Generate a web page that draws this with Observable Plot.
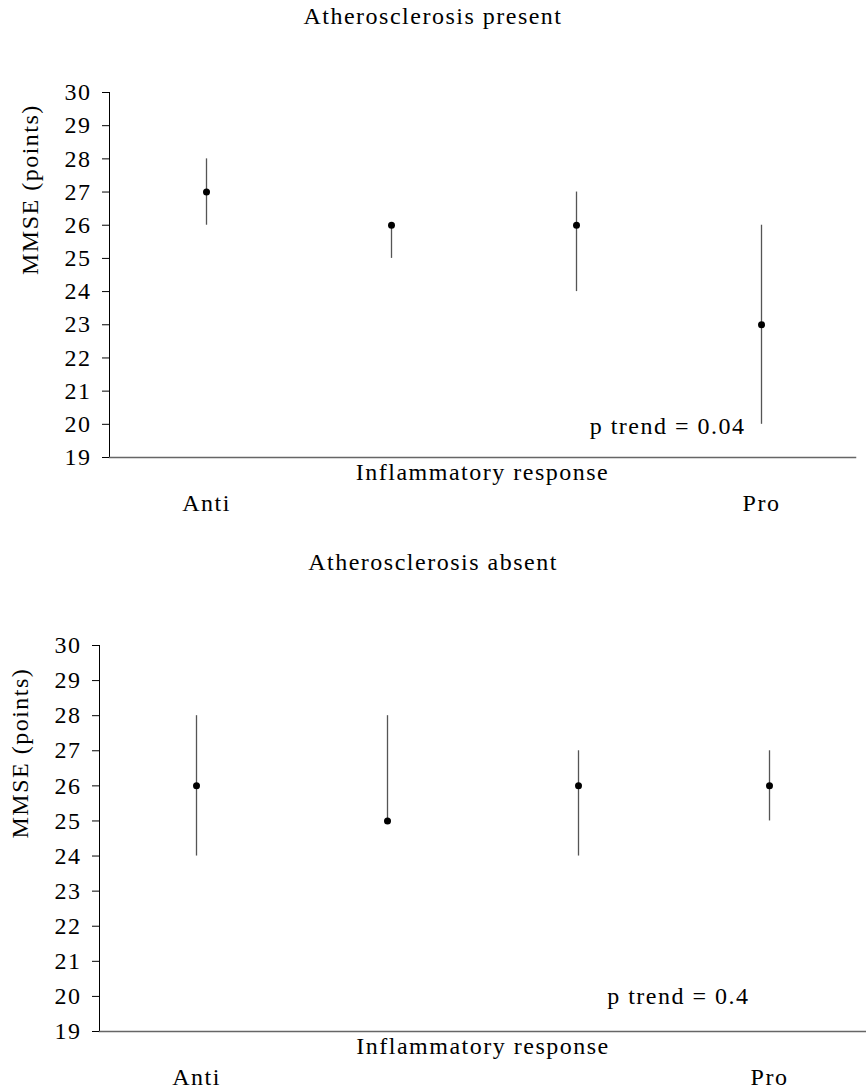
<!DOCTYPE html>
<html><head><meta charset="utf-8">
<script src="https://cdn.jsdelivr.net/npm/d3@7"></script>
<script src="https://cdn.jsdelivr.net/npm/@observablehq/plot@0.6"></script>
<style>
body{margin:0;background:#fff;width:866px;overflow:hidden}
.title{font-family:'Liberation Serif','Times New Roman',serif;font-size:24px;letter-spacing:1.5px;text-align:center;height:32px;line-height:32px;color:#000;white-space:nowrap}
#chart svg text{letter-spacing:1.5px}
#chart svg g[aria-label="y-title"] text{letter-spacing:0}
</style></head><body><div id="chart"></div>
<script>
// ---- data ----
const groups = [1, 2, 3, 4];
const xTickValues = [1, 4];
const xTickLabels = ["Anti", "Pro"];
const yTicks = [19, 20, 21, 22, 23, 24, 25, 26, 27, 28, 29, 30];
const presentMean = [27, 26, 26, 23];
const presentLow  = [26, 25, 24, 20];
const presentHigh = [28, 26, 27, 26];
const absentMean  = [26, 25, 26, 26];
const absentLow   = [24, 25, 24, 25];
const absentHigh  = [28, 28, 27, 27];
const panelTitles = ["Atherosclerosis present", "Atherosclerosis absent"];
const trendLabels = ["p trend = 0.04", "p trend = 0.4"];
const yLabel = "MMSE (points)";
const xLabel = "Inflammatory response";

const font = "'Liberation Serif','Times New Roman',serif";

function panel(mean, low, high, title, trend, L) {
  const data = groups.map((g, i) => ({g, mean: mean[i], low: low[i], high: high[i]}));
  const t = document.createElement("div");
  t.className = "title";
  t.style.marginTop = L.titleTop + "px";
  t.textContent = title;
  const svg = Plot.plot({
    width: 866,
    height: L.height,
    marginLeft: L.marginLeft,
    marginRight: L.marginRight,
    marginTop: L.marginTop,
    marginBottom: L.marginBottom,
    style: {fontFamily: font, fontSize: "24px", background: "white", color: "black", overflow: "visible"},
    x: {type: "point", domain: groups, padding: 0.5, insetLeft: L.insetLeft},
    y: {domain: [19, 30]},
    marks: [
      Plot.frame({anchor: "left", stroke: "black"}),
      Plot.frame({anchor: "bottom", stroke: "#666", strokeWidth: 1.5}),
      Plot.axisY({ticks: yTicks, tickSize: 7, tickPadding: 11, fontSize: 24, label: null, stroke: "black"}),
      Plot.axisX({ticks: xTickValues, tickFormat: d => xTickLabels[xTickValues.indexOf(d)], tickSize: 0, tickPadding: 36, fontSize: 24, label: null}),
      Plot.text([xLabel], {frameAnchor: "bottom", lineAnchor: "top", dy: 5, fontSize: 24}),
      Plot.text([yLabel], {frameAnchor: "left", rotate: -90, lineAnchor: "top", dx: -89, fontSize: 24, ariaLabel: "y-title"}),
      Plot.text([trend], {frameAnchor: "bottom-right", textAnchor: "end", lineAnchor: "top", dx: L.trendDx, dy: L.trendDy, fontSize: 24}),
      Plot.ruleX(data, {x: "g", y1: "low", y2: "high", stroke: "#555", strokeWidth: 1.3}),
      Plot.dot(data, {x: "g", y: "mean", r: 3.5, fill: "black", stroke: null})
    ]
  });
  const wrap = document.createElement("div");
  wrap.append(t, svg);
  return wrap;
}

const chart = document.getElementById("chart");
chart.append(
  panel(presentMean, presentLow, presentHigh, panelTitles[0], trendLabels[0],
    {titleTop: 0, height: 485, marginLeft: 109, marginRight: 11, marginTop: 60, marginBottom: 60, insetLeft: 3, trendDx: -110, trendDy: -41}),
  panel(absentMean, absentLow, absentHigh, panelTitles[1], trendLabels[1],
    {titleTop: 29, height: 511, marginLeft: 99, marginRight: 0, marginTop: 67, marginBottom: 58, insetLeft: 0, trendDx: -117, trendDy: -45})
);
</script></body></html>
